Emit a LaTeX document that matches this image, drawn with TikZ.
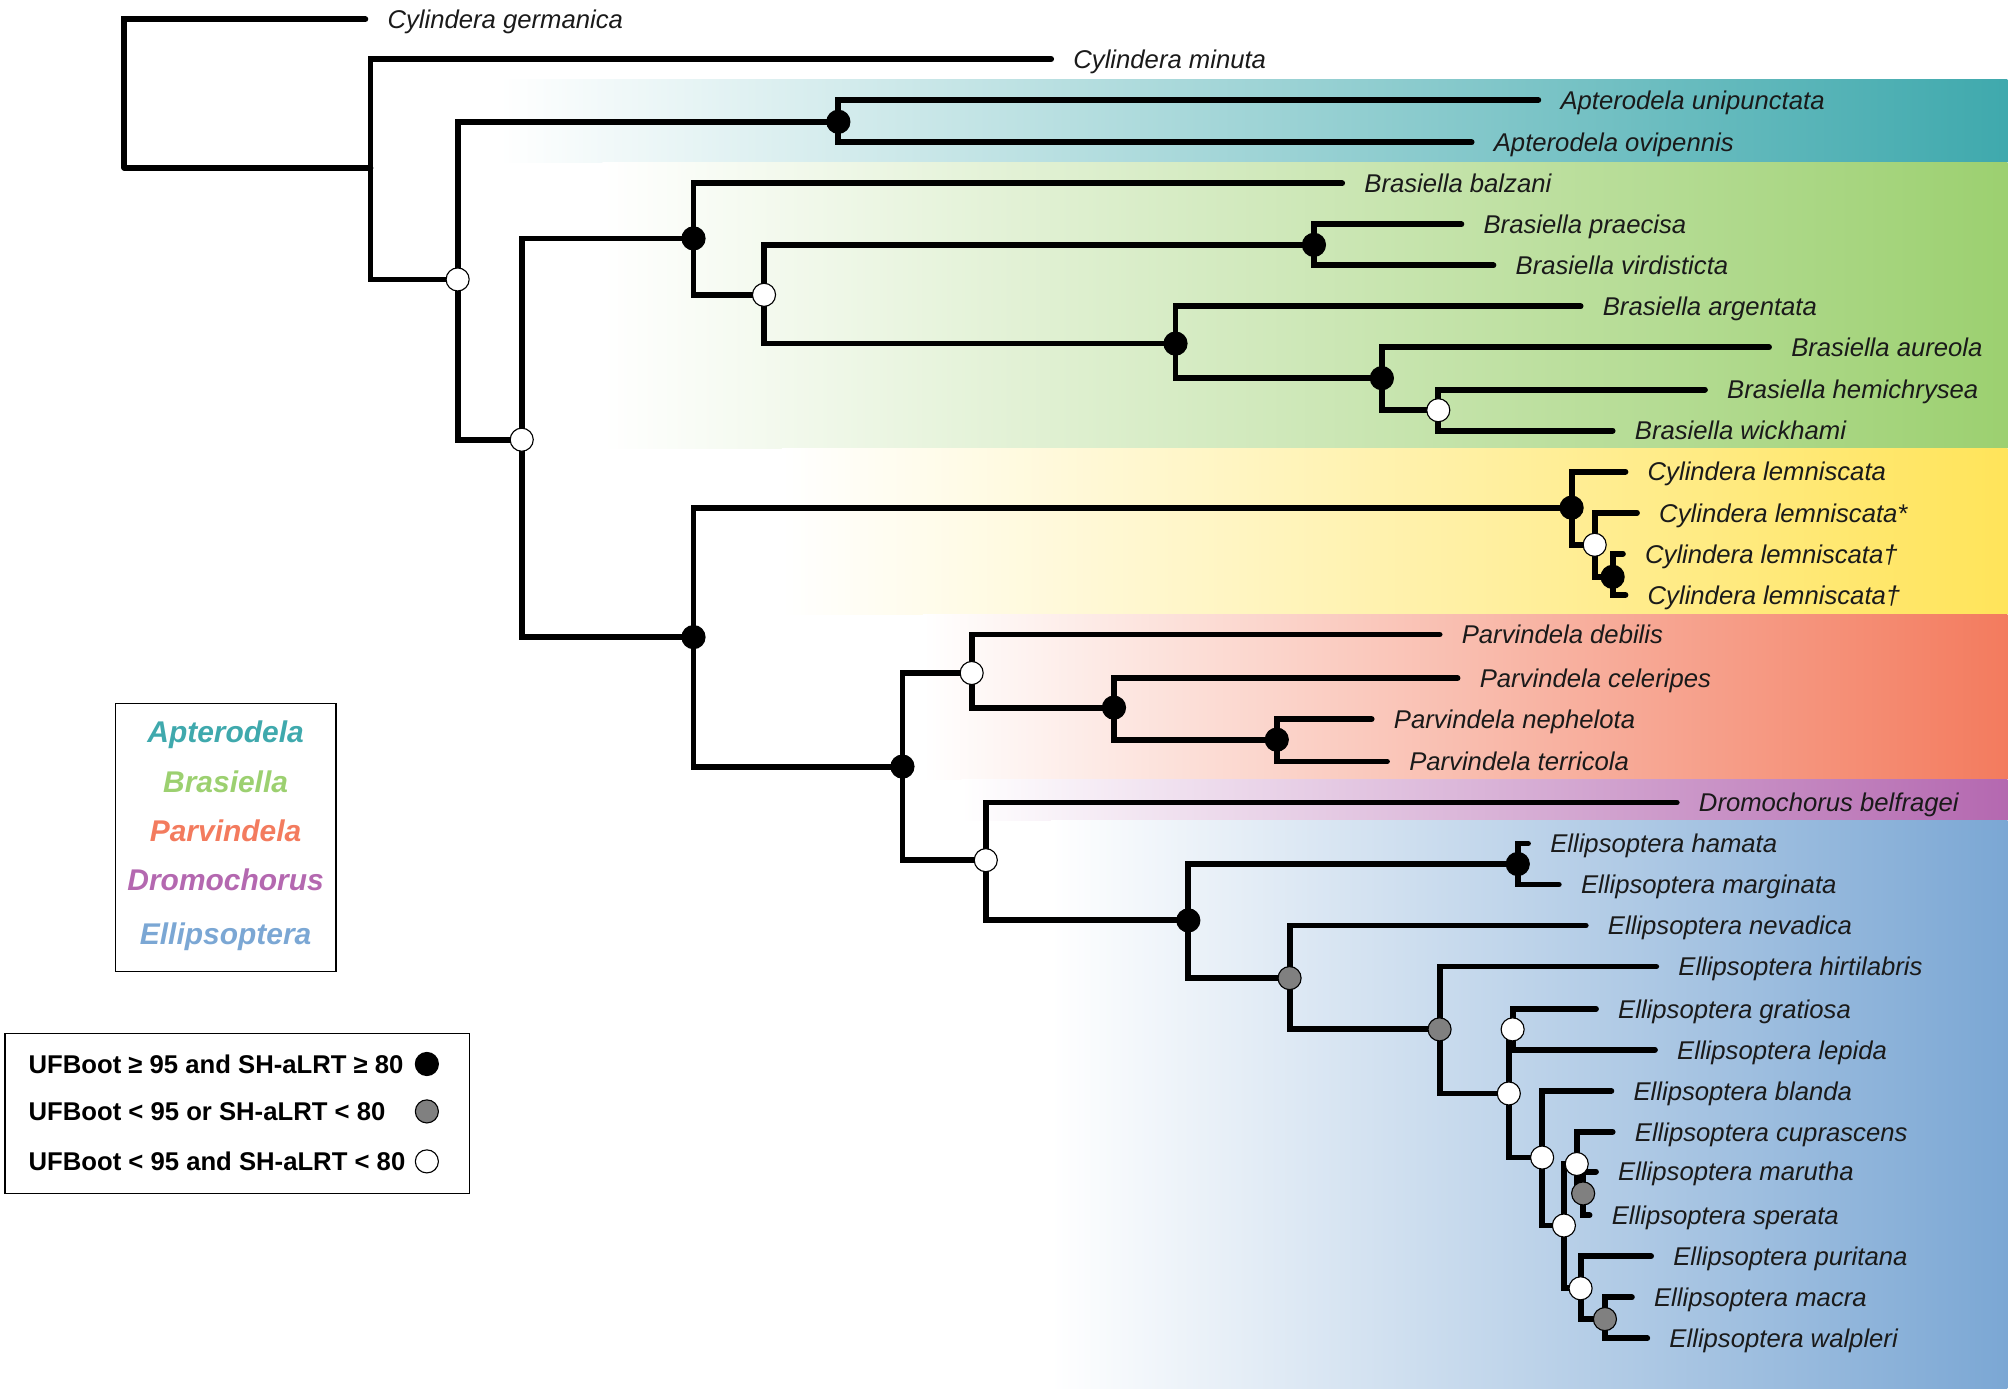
\documentclass[tikz,border=0pt]{standalone}
\usepackage{fontspec}
\setmainfont{Liberation Sans}
\usepackage{tikz}
\usetikzlibrary{calc}
\definecolor{aptcol}{RGB}{63,169,173}
\definecolor{bracol}{RGB}{156,208,112}
\definecolor{cylcol}{RGB}{255,228,90}
\definecolor{parcol}{RGB}{243,123,94}
\definecolor{drocol}{RGB}{180,104,176}
\definecolor{ellcol}{RGB}{123,167,212}
\definecolor{midgray}{RGB}{128,128,128}
\definecolor{inkcol}{RGB}{26,26,26}
\newcommand{\taxonfont}{\fontsize{11.4}{13}\selectfont\itshape}
\newcommand{\genusfont}{\fontsize{13.3}{15}\selectfont\bfseries\itshape}
\newcommand{\keyfont}{\fontsize{11.4}{13}\selectfont\bfseries}

\begin{document}
\begin{tikzpicture}[x=0.02cm, y=-0.02cm,
  branch/.style={line width=2.6pt, line cap=round},
  taxon/.style={anchor=west, inner xsep=0.34cm, inner ysep=0pt, text height=8.2pt, text depth=0pt, text=inkcol, font=\taxonfont},
  genus/.style={font=\genusfont},
  keytext/.style={anchor=west, inner sep=0pt, text height=8.2pt, text depth=0pt, font=\keyfont},
  supnode/.style={circle, draw, line width=0.5pt, inner sep=0pt, minimum size=0.36cm},
  strongnd/.style={supnode, fill=black},
  midnd/.style={supnode, fill=midgray},
  weaknd/.style={supnode, fill=white}]
  \useasboundingbox (0,0) rectangle (1568,1086);

  % genus bands
  \shade[left color=white, right color=aptcol] (390,62) rectangle (1566,127);
  \shade[left color=white, right color=bracol] (470,127) rectangle (1566,350);
  \shade[left color=white, right color=cylcol] (610,350) rectangle (1566,479);
  \shade[left color=white, right color=parcol] (720,479) rectangle (1566,608);
  \shade[left color=white, right color=drocol] (750,608) rectangle (1566,640);
  \shade[left color=white, right color=ellcol] (820,640) rectangle (1566,1083);

  % internal nodes
  \coordinate (r0) at (97,131);
  \coordinate (n1) at (289,131);
  \coordinate (n2) at (357,218);
  \coordinate (n3) at (654,95);
  \coordinate (n4) at (407,343);
  \coordinate (n5) at (541,186);
  \coordinate (n6) at (596,230);
  \coordinate (n7) at (1025,191);
  \coordinate (n8) at (917,268);
  \coordinate (n9) at (1078,295);
  \coordinate (n10) at (1122,320);
  \coordinate (n11) at (541,497);
  \coordinate (n12) at (1226,396);
  \coordinate (n13) at (1244,425);
  \coordinate (n14) at (1258,450);
  \coordinate (n15) at (704,598);
  \coordinate (n16) at (758,525);
  \coordinate (n17) at (869,552);
  \coordinate (n18) at (996,577);
  \coordinate (n19) at (769,671);
  \coordinate (n20) at (927,718);
  \coordinate (n21) at (1184,674);
  \coordinate (n22) at (1006,763);
  \coordinate (n23) at (1123,803);
  \coordinate (n24) at (1177,853);
  \coordinate (n25) at (1180,803);
  \coordinate (n26) at (1203,903);
  \coordinate (n27) at (1220,956);
  \coordinate (n28) at (1230,908);
  \coordinate (n29) at (1235,931);
  \coordinate (n30) at (1233,1005);
  \coordinate (n31) at (1252,1029);

  % taxa
  \node[taxon] (germ) at (285,15) {Cylindera germanica};
  \node[taxon] (minu) at (820,46) {Cylindera minuta};
  \node[taxon] (unip) at (1200,78) {Apterodela unipunctata};
  \node[taxon] (ovip) at (1148,111) {Apterodela ovipennis};
  \node[taxon] (balz) at (1047,143) {Brasiella balzani};
  \node[taxon] (prae) at (1140,175) {Brasiella praecisa};
  \node[taxon] (virt) at (1165,207) {Brasiella virdisticta};
  \node[taxon] (arge) at (1233,239) {Brasiella argentata};
  \node[taxon] (aure) at (1380,271) {Brasiella aureola};
  \node[taxon] (hemi) at (1330,304) {Brasiella hemichrysea};
  \node[taxon] (wick) at (1258,336) {Brasiella wickhami};
  \node[taxon] (lema) at (1268,368) {Cylindera lemniscata};
  \node[taxon] (lemb) at (1277,400) {Cylindera lemniscata*};
  \node[taxon] (lemc) at (1266,432) {Cylindera lemniscata†};
  \node[taxon] (lemd) at (1268,464) {Cylindera lemniscata†};
  \node[taxon] (debi) at (1123,495) {Parvindela debilis};
  \node[taxon] (cele) at (1137,529) {Parvindela celeripes};
  \node[taxon] (neph) at (1070,561) {Parvindela nephelota};
  \node[taxon] (terr) at (1082,594) {Parvindela terricola};
  \node[taxon] (belf) at (1308,626) {Dromochorus belfragei};
  \node[taxon] (hama) at (1192,658) {Ellipsoptera hamata};
  \node[taxon] (marg) at (1216,690) {Ellipsoptera marginata};
  \node[taxon] (neva) at (1237,722) {Ellipsoptera nevadica};
  \node[taxon] (hirt) at (1292,754) {Ellipsoptera hirtilabris};
  \node[taxon] (grat) at (1245,787) {Ellipsoptera gratiosa};
  \node[taxon] (lepi) at (1291,819) {Ellipsoptera lepida};
  \node[taxon] (blan) at (1257,851) {Ellipsoptera blanda};
  \node[taxon] (cupr) at (1258,883) {Ellipsoptera cuprascens};
  \node[taxon] (maru) at (1245,914) {Ellipsoptera marutha};
  \node[taxon] (sper) at (1240,948) {Ellipsoptera sperata};
  \node[taxon] (puri) at (1288,980) {Ellipsoptera puritana};
  \node[taxon] (macr) at (1273,1012) {Ellipsoptera macra};
  \node[taxon] (walp) at (1285,1044) {Ellipsoptera walpleri};

  % branches
  \draw[branch] (r0) |- (germ.west) (r0) |- (n1);
  \draw[branch] (n1) |- (minu.west) (n1) |- (n2);
  \draw[branch] (n2) |- (n3) (n2) |- (n4);
  \draw[branch] (n3) |- (unip.west) (n3) |- (ovip.west);
  \draw[branch] (n4) |- (n5) (n4) |- (n11);
  \draw[branch] (n5) |- (balz.west) (n5) |- (n6);
  \draw[branch] (n6) |- (n7) (n6) |- (n8);
  \draw[branch] (n7) |- (prae.west) (n7) |- (virt.west);
  \draw[branch] (n8) |- (arge.west) (n8) |- (n9);
  \draw[branch] (n9) |- (aure.west) (n9) |- (n10);
  \draw[branch] (n10) |- (hemi.west) (n10) |- (wick.west);
  \draw[branch] (n11) |- (n12) (n11) |- (n15);
  \draw[branch] (n12) |- (lema.west) (n12) |- (n13);
  \draw[branch] (n13) |- (lemb.west) (n13) |- (n14);
  \draw[branch] (n14) |- (lemc.west) (n14) |- (lemd.west);
  \draw[branch] (n15) |- (n16) (n15) |- (n19);
  \draw[branch] (n16) |- (debi.west) (n16) |- (n17);
  \draw[branch] (n17) |- (cele.west) (n17) |- (n18);
  \draw[branch] (n18) |- (neph.west) (n18) |- (terr.west);
  \draw[branch] (n19) |- (belf.west) (n19) |- (n20);
  \draw[branch] (n20) |- (n21) (n20) |- (n22);
  \draw[branch] (n21) |- (hama.west) (n21) |- (marg.west);
  \draw[branch] (n22) |- (neva.west) (n22) |- (n23);
  \draw[branch] (n23) |- (hirt.west) (n23) |- (n24);
  \draw[branch] (n24) |- (n25) (n24) |- (n26);
  \draw[branch] (n25) |- (grat.west) (n25) |- (lepi.west);
  \draw[branch] (n26) |- (blan.west) (n26) |- (n27);
  \draw[branch] (n27) |- (n28) (n27) |- (n30);
  \draw[branch] (n28) |- (cupr.west) (n28) |- (n29);
  \draw[branch] (n29) |- (maru.west) (n29) |- (sper.west);
  \draw[branch] (n30) |- (puri.west) (n30) |- (n31);
  \draw[branch] (n31) |- (macr.west) (n31) |- (walp.west);

  % support values
  \foreach \n in {n3,n5,n7,n8,n9,n11,n12,n14,n15,n17,n18,n20,n21}
    \node[strongnd] (c\n) at (\n) {};
  \foreach \n in {n22,n23,n29,n31}
    \node[midnd] (c\n) at (\n) {};
  \foreach \n in {n2,n4,n6,n10,n13,n16,n19,n24,n25,n26,n27,n28,n30}
    \node[weaknd] (c\n) at (\n) {};

  % genus key
  \draw[line width=0.6pt] (90,549) rectangle (262,758);
  \node[genus, aptcol] (kapt) at (176,573) {Apterodela};
  \node[genus, bracol] (kbra) at (176,610) {Brasiella};
  \node[genus, parcol] (kpar) at (176,648) {Parvindela};
  \node[genus, drocol] (kdro) at (176,686) {Dromochorus};
  \node[genus, ellcol] (kell) at (176,731) {Ellipsoptera};

  % support key
  \draw[line width=0.6pt] (4,806) rectangle (366,931);
  \node[keytext] (kstrong) at (22,830) {UFBoot ≥ 95 and SH-aLRT ≥ 80};
  \node[keytext] (kmid) at (22,867) {UFBoot < 95 or SH-aLRT < 80};
  \node[keytext] (kweak) at (22,906) {UFBoot < 95 and SH-aLRT < 80};
  \node[strongnd] (dstrong) at (333,830) {};
  \node[midnd] (dmid) at (333,867) {};
  \node[weaknd] (dweak) at (333,906) {};
\end{tikzpicture}
\end{document}
